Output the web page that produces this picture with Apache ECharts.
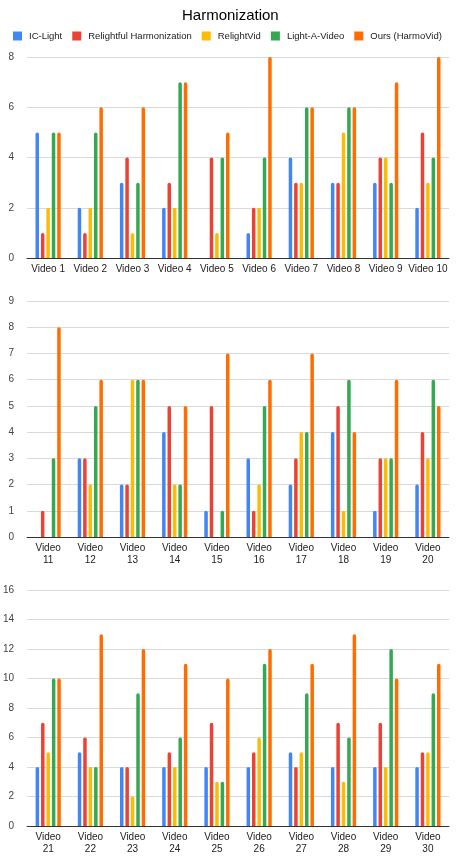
<!DOCTYPE html>
<html>
<head>
<meta charset="utf-8">
<script src="https://cdn.jsdelivr.net/npm/echarts@6/dist/echarts.min.js"></script>
<style>
  html, body { margin: 0; padding: 0; background: #fff; }
  #chart { width: 463px; height: 859px; }
</style>
</head>
<body>
<div id="chart"></div>
<script>
// series names and colours
var seriesNames = ['IC-Light', 'Relightful Harmonization', 'RelightVid', 'Light-A-Video', 'Ours (HarmoVid)'];
var colors = ['#4285F4', '#EA4335', '#FBBC04', '#34A853', '#FF6D01'];

// panel 1: Video 1-10
var videos1 = ['Video 1','Video 2','Video 3','Video 4','Video 5','Video 6','Video 7','Video 8','Video 9','Video 10'];
var icLight1    = [5, 2, 3, 2, 0, 1, 4, 3, 3, 2];
var relightful1 = [1, 1, 4, 3, 4, 2, 3, 3, 4, 5];
var relightVid1 = [2, 2, 1, 2, 1, 2, 3, 5, 4, 3];
var lightAV1    = [5, 5, 3, 7, 4, 4, 6, 6, 3, 4];
var ours1       = [5, 6, 6, 7, 5, 8, 6, 6, 7, 8];

// panel 2: Video 11-20
var videos2 = ['Video 11','Video 12','Video 13','Video 14','Video 15','Video 16','Video 17','Video 18','Video 19','Video 20'];
var icLight2    = [0, 3, 2, 4, 1, 3, 2, 4, 1, 2];
var relightful2 = [1, 3, 2, 5, 5, 1, 3, 5, 3, 4];
var relightVid2 = [0, 2, 6, 2, 0, 2, 4, 1, 3, 3];
var lightAV2    = [3, 5, 6, 2, 1, 5, 4, 6, 3, 6];
var ours2       = [8, 6, 6, 5, 7, 6, 7, 4, 6, 5];

// panel 3: Video 21-30
var videos3 = ['Video 21','Video 22','Video 23','Video 24','Video 25','Video 26','Video 27','Video 28','Video 29','Video 30'];
var icLight3    = [4, 5, 4, 4, 4, 4, 5, 4, 4, 4];
var relightful3 = [7, 6, 4, 5, 7, 5, 4, 7, 7, 5];
var relightVid3 = [5, 4, 2, 4, 3, 6, 5, 3, 4, 5];
var lightAV3    = [10, 4, 9, 6, 3, 11, 9, 6, 12, 9];
var ours3       = [10, 13, 12, 11, 10, 12, 11, 13, 10, 11];

var panels = [
  { cats: videos1, data: [icLight1, relightful1, relightVid1, lightAV1, ours1], max: 8, step: 2, top: 57, height: 201, wrap: false },
  { cats: videos2, data: [icLight2, relightful2, relightVid2, lightAV2, ours2], max: 9, step: 1, top: 301, height: 236, wrap: true },
  { cats: videos3, data: [icLight3, relightful3, relightVid3, lightAV3, ours3], max: 16, step: 2, top: 590, height: 236, wrap: true }
];

var myChart = echarts.init(document.getElementById('chart'));

var font = 'Liberation Sans, Arial, sans-serif';
var grids = [], xAxes = [], yAxes = [], series = [];
panels.forEach(function (p, i) {
  grids.push({ left: 27, right: 14, top: p.top, height: p.height });
  xAxes.push({
    type: 'category',
    gridIndex: i,
    data: p.cats,
    axisTick: { show: false },
    axisLine: { lineStyle: { color: '#333', width: 1 } },
    axisLabel: {
      color: '#222',
      fontSize: 10,
      fontFamily: font,
      margin: 5,
      lineHeight: 12,
      interval: 0,
      formatter: function (v) { return p.wrap ? v.replace(' ', '\n') : v; }
    }
  });
  yAxes.push({
    type: 'value',
    gridIndex: i,
    min: 0,
    max: p.max,
    interval: p.step,
    axisLine: { show: false },
    axisTick: { show: false },
    splitLine: { lineStyle: { color: '#d9d9d9', width: 1 } },
    axisLabel: { color: '#444', fontSize: 10, fontFamily: font, margin: 13 }
  });
  p.data.forEach(function (vals, k) {
    series.push({
      name: seriesNames[k],
      type: 'bar',
      xAxisIndex: i,
      yAxisIndex: i,
      data: vals,
      barWidth: 3.5,
      barGap: '55%',
      itemStyle: { color: colors[k], borderRadius: [2, 2, 0, 0] }
    });
  });
});

var option = {
  animation: false,
  color: colors,
  title: {
    text: 'Harmonization',
    left: 177,
    top: 3,
    textStyle: { fontSize: 15, fontWeight: 'normal', color: '#000', fontFamily: font }
  },
  legend: {
    data: seriesNames,
    top: 31,
    left: 13,
    padding: 0,
    icon: 'rect',
    itemWidth: 9,
    itemHeight: 9,
    itemGap: 10,
    textStyle: { fontSize: 9.5, color: '#222', fontFamily: font, padding: [0, 0, 0, 2] }
  },
  grid: grids,
  xAxis: xAxes,
  yAxis: yAxes,
  series: series
};

myChart.setOption(option);
</script>
</body>
</html>
